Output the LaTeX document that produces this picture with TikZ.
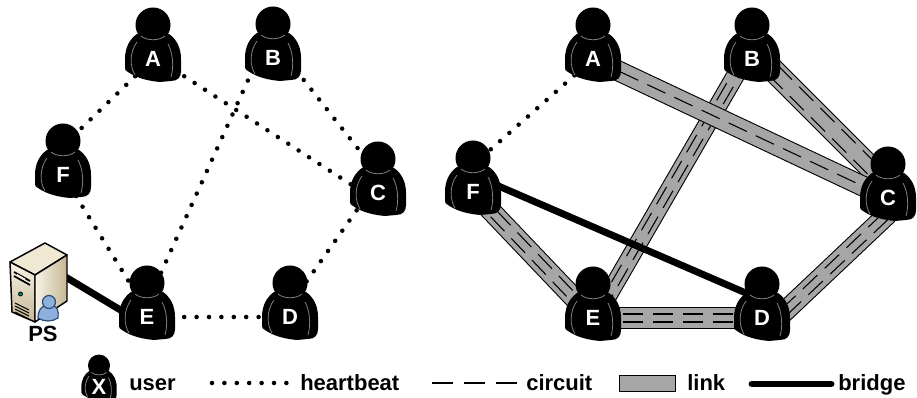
\documentclass[tikz,border=0pt]{standalone}
\usepackage{fontspec}
\setmainfont{Liberation Sans}
\usetikzlibrary{calc,backgrounds}

\definecolor{linkgray}{HTML}{A6A6A6}
\definecolor{srvtop}{HTML}{EFE8D3}
\definecolor{srvdark}{HTML}{C4B794}
\definecolor{srvlight}{HTML}{F7F3E6}
\definecolor{psblue}{HTML}{8DB0DC}
\definecolor{psdark}{HTML}{2F4A75}

% person drawn round the point where its letter sits
\newcommand{\usershape}[3]{%
    \begin{scope}[shift={(#1,#2)},scale=#3]
        \fill (0,-34) circle (17.5);
        \fill (-28,0) .. controls (-28,-12) and (-23,-20) .. (-16,-25) -- (16,-25)
            .. controls (23,-20) and (28,-12) .. (28,0) -- (28,12)
            .. controls (28,18) and (25,22) .. (18,22) -- (7,23)
            .. controls (-3,22) and (-15,20) .. (-25,13)
            .. controls (-27,12) and (-28,11) .. (-28,9) -- cycle;
        \draw[gray,line width=0.6pt] (-12,-23) .. controls (-6,-18) and (6,-18) .. (12,-23);
        \draw[gray,line width=0.6pt] (-16,-17) .. controls (-24,-6) and (-23,8) .. (-18,16);
        \draw[gray,line width=0.6pt] (15,-15) .. controls (20,-6) and (21,8) .. (18,18);
    \end{scope}}

\tikzset{
    user/.style={inner sep=0pt,text=white,font=\fontsize{16.5pt}{16.5pt}\selectfont\bfseries},
    labeltext/.style={font=\fontsize{16.5pt}{16.5pt}\selectfont\bfseries,inner sep=0pt,anchor=base west},
    heartbeat/.style={line width=3.4pt,line cap=round,dash pattern=on 0pt off 9.3pt},
    circuit/.style={line width=0.8pt,dash pattern=on 15pt off 7.5pt},
    linkband/.style={draw=black,line width=0.8pt,double=linkgray,double distance=#1},
    bridge/.style={line width=5.2pt}
}

\begin{document}
\begin{tikzpicture}[x=0.75pt,y=-0.75pt]
    \useasboundingbox (0,0) rectangle (917,398);

    % Users, both graphs
    \foreach \name/\x/\y/\txt in {a1/153/59/A,b1/273/58/B,c1/378/193/C,d1/290/317/D,e1/147/317/E,f1/63/175/F,
        a2/593/59/A,b2/752/59/B,c2/888/198/C,d2/762/318/D,e2/593/318/E,f2/473/192/F} {
        \usershape{\x}{\y}{1}
        \node[user] (\name) at (\x,\y) {\txt};
    }

    % Where the lines really end on a user
    \foreach \name/\x/\y in {srv/39/261,e1low/147/326,f2up/473/175,d2up/762/300,d2low/762/333,c2low/888/214,
        b2off/745/59,e2off/595/318,b2up/752/49,c2up/888/185,a1up/153/56,c1low/378/202,f1up/63/146,
        b1off/258/58,e1off/141/317,b1up/273/41,c1up/378/174,c1off/378/180,d1off/290/305,e1up/147/311,f2top/473/165}
        \coordinate (\name) at (\x,\y);

    \begin{scope}[on background layer]
        % Heartbeats
        \foreach \from/\to in {a1up/c1low,a1/f1up,b1off/e1off,b1up/c1up,c1off/d1off,e1/d1,f1/e1up,a2/f2top}
            \draw[heartbeat] (\from.center) -- (\to.center);

        % Links with their circuits
        \foreach \from/\to/\wid/\gap in {b2off/e2off/12.4pt/2.8pt,b2up/c2up/16pt/5pt,e2/d2/15pt/3pt,d2low/c2low/14pt/3pt,f2/e2/14pt/3.2pt} {
            \draw[linkband=\wid] (\from.center) -- (\to.center);
            \foreach \off in {-\gap,\gap}
                \draw[circuit] ($(\from.center)!\off!90:(\to.center)$) -- ($(\to.center)!\off!-90:(\from.center)$);
        }
        \draw[linkband=14pt] (a2.center) -- (c2.center);
        \draw[circuit] (a2.center) -- (c2.center);

        % Bridges
        \draw[bridge] (f2up) -- (d2up);
        \draw[bridge] (srv) -- (e1low);
    \end{scope}

    % Server
    \begin{scope}[line join=round,line width=1.1pt]
        \draw[fill=srvtop] (10,262) -- (45,243) -- (67,255) -- (35,275) -- cycle;
        \draw[top color=srvlight,bottom color=srvdark] (10,262) -- (35,275) -- (35,322) -- (12,312) -- cycle;
        \draw[left color=srvlight,right color=srvdark] (35,275) -- (67,255) -- (67,301) -- (35,322) -- cycle;
        \draw[line width=1.3pt] (14,272) -- (30,281) (14,276) -- (30,285);
        \fill[srvlight] (17,274) -- (25,278.5) -- (25,280.5) -- (17,276) -- cycle;
        \foreach \h in {0,3,6,9}
            \draw[line width=0.7pt] (15,303+\h) -- (29,310+\h);
        \draw[fill=teal,line width=0.6pt] (20.5,294) circle (2);
        % Small blue user
        \draw[psdark,fill=psblue,line width=0.9pt] (38,318) .. controls (38,310) and (42,306) .. (45,306)
            -- (53,306) .. controls (57,306) and (59,311) .. (58,318)
            .. controls (52,322) and (44,322) .. (38,318) -- cycle;
        \draw[psdark,fill=psblue,line width=0.9pt] (49,302) circle (6.5);
    \end{scope}
    \node[labeltext] (pslabel) at (28,342) {PS};

    % Legend
    \usershape{99}{387}{0.63}
    \node[user] (xuser) at (99,387) {X};
    \node[labeltext] (lguser) at (129,391) {user};

    \coordinate (hb1) at (212,383);
    \coordinate (hb2) at (289,383);
    \draw[heartbeat] (hb1) -- (hb2);
    \node[labeltext] (lgheart) at (300,391) {heartbeat};

    \coordinate (ci1) at (432,383);
    \coordinate (ci2) at (517,383);
    \draw[line width=1pt,dash pattern=on 16pt off 8pt] (ci1) -- (ci2);
    \node[labeltext] (lgcircuit) at (526,391) {circuit};

    \node[draw=black,line width=0.8pt,fill=linkgray,minimum width=42pt,minimum height=12pt,inner sep=0pt] (lgband) at (647.5,383.5) {};
    \node[labeltext] (lglink) at (687,391) {link};

    \coordinate (br1) at (752,384);
    \coordinate (br2) at (831,384);
    \draw[bridge,line cap=round] (br1) -- (br2);
    \node[labeltext] (lgbridge) at (838,391) {bridge};
\end{tikzpicture}
\end{document}
